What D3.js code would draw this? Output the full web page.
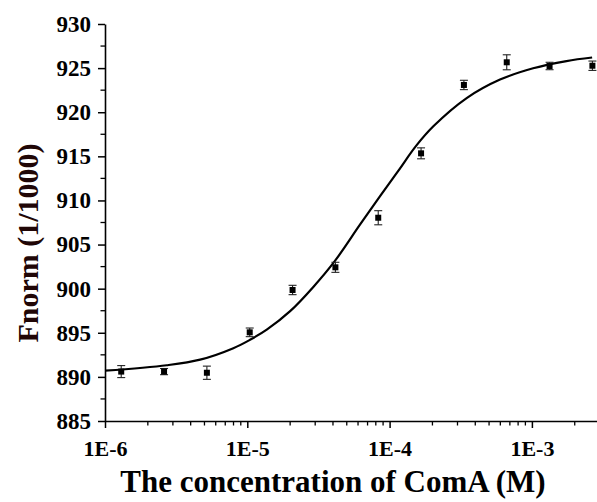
<!DOCTYPE html>
<html>
<head>
<meta charset="utf-8">
<script src="https://cdn.jsdelivr.net/npm/d3@7"></script>
<style>
  html, body { margin: 0; padding: 0; background: #fff; }
  svg { display: block; }
  text { font-family: "Liberation Serif", "Times New Roman", serif; font-weight: bold; }
</style>
</head>
<body>
<svg id="chart" width="597" height="502"></svg>
<script>
// ---- data ----
const concentrations = [1.3e-6, 2.6e-6, 5.2e-6, 1.04e-5, 2.08e-5, 4.16e-5, 8.32e-5, 1.664e-4, 3.328e-4, 6.656e-4, 1.331e-3, 2.662e-3];
const fnorm = [890.6, 890.6, 890.47, 895.05, 899.85, 902.42, 908.04, 915.34, 923.09, 925.66, 925.24, 925.27];
const errors = [0.68, 0.35, 0.75, 0.49, 0.53, 0.57, 0.8, 0.62, 0.53, 0.85, 0.42, 0.53];

// fitted curve
const fitX = [1e-6, 2.72e-6, 4.66e-6, 7.98e-6, 1.045e-5, 1.37e-5, 2.0e-5, 2.91e-5, 4.13e-5, 6.19e-5, 8.57e-5, 1.15e-4, 1.53e-4, 2.03e-4, 3.48e-4, 5.97e-4, 1.02e-3, 1.75e-3, 2.65e-3];
const fitY = [890.7, 891.32, 891.95, 893.25, 894.2, 895.35, 897.45, 900.2, 903.15, 907.25, 910.5, 913.35, 916.15, 918.4, 921.6, 923.7, 924.98, 925.8, 926.2];

const yTicks = [885, 890, 895, 900, 905, 910, 915, 920, 925, 930];
const xTicks = [1e-6, 1e-5, 1e-4, 1e-3];
const xTickLabels = ["1E-6", "1E-5", "1E-4", "1E-3"];
const xLabel = "The concentration of ComA (M)";
const yLabel = "Fnorm (1/1000)";

// ---- layout ----
const svg = d3.select("#chart");
const x0 = 105, yBottom = 421, yTop = 24;
const decade = 142.3;
const x = d3.scaleLog().domain([1e-6, 3e-3]).range([x0, x0 + Math.log10(3e-3 / 1e-6) * decade]);
const y = d3.scaleLinear().domain([885, 930]).range([yBottom, yTop]);

// minor ticks
const xMinor = [];
for (let e = -6; e <= -3; e++) for (let m = 2; m <= 9; m++) { const v = m * Math.pow(10, e); if (v <= 3e-3) xMinor.push(v); }
const yMinor = d3.range(887.5, 930, 5);

// x axis
const gx = svg.append("g").attr("transform", `translate(0,${yBottom})`);
gx.call(d3.axisBottom(x).tickValues(xTicks).tickFormat((d, i) => xTickLabels[i]).tickSize(7).tickSizeOuter(0).tickPadding(12));
gx.select(".domain").attr("stroke", "#000").attr("stroke-width", 1.6);
gx.selectAll(".tick line").attr("stroke", "#000").attr("stroke-width", 1.5);
gx.selectAll(".tick text").attr("fill", "#000").style("font-size", "22px").attr("dy", "0.71em");
gx.selectAll(".minor").data(xMinor).enter().append("line")
  .attr("class", "minor").attr("x1", d => x(d)).attr("x2", d => x(d))
  .attr("y1", 0).attr("y2", 4.5).attr("stroke", "#000").attr("stroke-width", 1.3);

// y axis
const gy = svg.append("g").attr("transform", `translate(${x0},0)`);
gy.call(d3.axisLeft(y).tickValues(yTicks).tickFormat(d3.format("d")).tickSize(7).tickSizeOuter(0).tickPadding(7));
gy.select(".domain").attr("stroke", "#000").attr("stroke-width", 1.6);
gy.selectAll(".tick line").attr("stroke", "#000").attr("stroke-width", 1.5);
gy.selectAll(".tick text").attr("fill", "#000").style("font-size", "23px");
gy.selectAll(".minor").data(yMinor).enter().append("line")
  .attr("class", "minor").attr("y1", d => y(d)).attr("y2", d => y(d))
  .attr("x1", 0).attr("x2", -4.5).attr("stroke", "#000").attr("stroke-width", 1.3);

// fit curve
const fitData = fitX.map((v, i) => [v, fitY[i]]);
svg.append("path").datum(fitData)
  .attr("fill", "none").attr("stroke", "#000").attr("stroke-width", 2.2)
  .attr("d", d3.line().x(d => x(d[0])).y(d => y(d[1])).curve(d3.curveCatmullRom.alpha(0.5)));

// error bars and points
const pts = concentrations.map((c, i) => ({ c, v: fnorm[i], e: errors[i] }));
const eb = svg.append("g").attr("stroke", "#222").attr("stroke-width", 1.1);
eb.selectAll(".v").data(pts).enter().append("line")
  .attr("x1", d => x(d.c)).attr("x2", d => x(d.c))
  .attr("y1", d => y(d.v + d.e)).attr("y2", d => y(d.v - d.e));
eb.selectAll(".t").data(pts).enter().append("line")
  .attr("x1", d => x(d.c) - 4).attr("x2", d => x(d.c) + 4)
  .attr("y1", d => y(d.v + d.e)).attr("y2", d => y(d.v + d.e));
eb.selectAll(".b").data(pts).enter().append("line")
  .attr("x1", d => x(d.c) - 4).attr("x2", d => x(d.c) + 4)
  .attr("y1", d => y(d.v - d.e)).attr("y2", d => y(d.v - d.e));
svg.append("g").selectAll("rect").data(pts).enter().append("rect")
  .attr("x", d => x(d.c) - 3).attr("y", d => y(d.v) - 3)
  .attr("width", 6).attr("height", 6).attr("fill", "#000");

// axis titles
svg.append("text").attr("x", 333).attr("y", 492).attr("text-anchor", "middle")
  .style("font-size", "31px").attr("fill", "#000").text(xLabel);
svg.append("text").attr("transform", "translate(38,243) rotate(-90)").attr("text-anchor", "middle")
  .style("font-size", "30px").attr("fill", "#200606").text(yLabel);
</script>
</body>
</html>
